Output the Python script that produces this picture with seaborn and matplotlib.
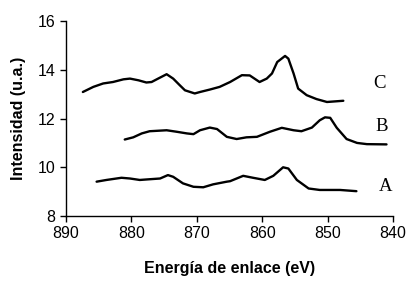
import matplotlib
matplotlib.use('Agg')
import matplotlib.pyplot as plt
import pandas as pd
import seaborn as sns

# Binding energy (eV) and intensity (a.u.)
C_EV = [887.4, 885.8, 884.3, 882.8, 881.2, 880.2, 878.9, 877.7, 876.9, 875.9, 874.6, 873.6,
        872.6, 871.8, 870.3, 869.5, 868.0, 866.5, 864.9, 863.1, 861.9, 860.4, 859.3, 858.5,
        857.7, 856.5, 856.0, 855.2, 854.5, 853.2, 851.7, 850.1, 847.6]
C_INT = [13.09, 13.30, 13.44, 13.50, 13.61, 13.64, 13.57, 13.48, 13.50, 13.64, 13.82, 13.64,
         13.37, 13.16, 13.03, 13.09, 13.19, 13.30, 13.50, 13.78, 13.77, 13.50, 13.64, 13.85,
         14.32, 14.57, 14.46, 13.85, 13.23, 12.96, 12.80, 12.68, 12.73]

B_EV = [881.0, 879.7, 878.4, 877.2, 874.6, 873.1, 871.5, 870.5, 869.5, 868.0, 866.9, 865.4,
        863.9, 862.4, 860.8, 858.8, 857.0, 855.2, 854.0, 852.4, 851.2, 850.4, 849.6, 848.6,
        847.1, 845.5, 844.0, 841.0]
B_INT = [11.14, 11.23, 11.39, 11.48, 11.52, 11.46, 11.39, 11.36, 11.52, 11.63, 11.57, 11.25,
         11.16, 11.23, 11.25, 11.46, 11.62, 11.52, 11.48, 11.63, 11.93, 12.05, 12.03, 11.62,
         11.16, 11.00, 10.95, 10.94]

A_EV = [885.3, 883.8, 881.5, 880.2, 878.7, 877.7, 875.6, 874.4, 873.6, 872.1, 870.5, 869.0,
        867.5, 865.4, 864.9, 862.9, 861.4, 859.6, 858.3, 856.8, 856.0, 854.7, 852.9, 851.2,
        848.1, 845.6]
A_INT = [9.41, 9.48, 9.57, 9.54, 9.48, 9.50, 9.54, 9.68, 9.61, 9.34, 9.20, 9.18,
         9.30, 9.41, 9.43, 9.65, 9.57, 9.48, 9.65, 10.00, 9.95, 9.48, 9.13, 9.07,
         9.07, 9.02]

LABELS = ['C', 'B', 'A']
LABEL_X = [842.1, 841.8, 841.2]
LABEL_Y = [13.45, 11.67, 9.23]

sns.set_style('ticks')
plt.rcParams['font.family'] = ['Liberation Sans', 'DejaVu Sans']
plt.rcParams['text.color'] = 'black'
plt.rcParams['axes.labelcolor'] = 'black'
plt.rcParams['xtick.color'] = 'black'
plt.rcParams['ytick.color'] = 'black'

fig = plt.figure(figsize=(4.09, 2.85), dpi=100)
ax = fig.add_axes([0.161, 0.242, 0.8, 0.684])

for ev, inten in [(C_EV, C_INT), (B_EV, B_INT), (A_EV, A_INT)]:
    df = pd.DataFrame({'ev': ev, 'int': inten})
    sns.lineplot(data=df, x='ev', y='int', ax=ax, color='black', linewidth=1.7,
                 sort=False, estimator=None)

for lab, x, y in zip(LABELS, LABEL_X, LABEL_Y):
    ax.text(x, y, lab, family=['Liberation Serif'], fontsize=13.5,
            ha='center', va='center', color='black')

ax.set_xlim(890, 840)
ax.set_ylim(8, 16)
ax.set_xticks([890, 880, 870, 860, 850, 840])
ax.set_yticks([8, 10, 12, 14, 16])
ax.tick_params(labelsize=11.5, length=4, width=1, color='black', direction='out')
ax.set_xlabel('Energía de enlace (eV)', fontsize=11.5, fontweight='bold', labelpad=14)
ax.set_ylabel('Intensidad (u.a.)', fontsize=11.5, fontweight='bold', labelpad=8)
for s in ['left', 'bottom']:
    ax.spines[s].set_color('black')
    ax.spines[s].set_linewidth(1)
sns.despine(ax=ax)

fig.savefig('out.png', dpi=100)
